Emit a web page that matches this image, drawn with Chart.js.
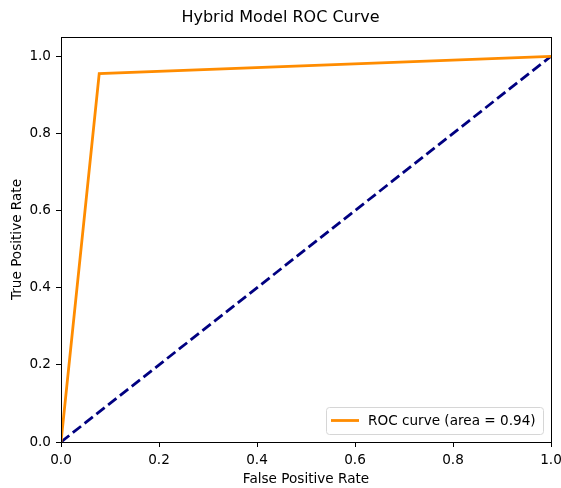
<!DOCTYPE html>
<html>
<head>
<meta charset="utf-8">
<script src="https://cdn.jsdelivr.net/npm/chart.js@4.4.1/dist/chart.umd.min.js"></script>
<style>
  html, body { margin: 0; padding: 0; background: #fff; }
  #wrap { width: 561px; height: 488px; }
</style>
</head>
<body>
<div id="wrap"><canvas id="roc" width="561" height="488"></canvas></div>
<script>
// ROC points
const fpr = [0, 0.078, 1];
const tpr = [0, 0.955, 1];
const chanceX = [0, 1];
const chanceY = [0, 1];
const xTicks = [0, 0.2, 0.4, 0.6, 0.8, 1.0];
const yTicks = [0, 0.2, 0.4, 0.6, 0.8, 1.0];
const rocLabel = 'ROC curve (area = 0.94)';

const FONT = '"DejaVu Sans", sans-serif';
const FS = 13.6;

// box around the plot + legend inside the lower right corner
const frameAndLegend = {
  id: 'frameAndLegend',
  afterDatasetsDraw(chart) {
    const {ctx, chartArea: a} = chart;
    ctx.save();
    ctx.strokeStyle = '#000';
    ctx.lineWidth = 1;
    ctx.strokeRect(a.left + 0.5, a.top + 0.5, a.right - a.left, a.bottom - a.top);

    const w = 217, h = 27;
    const x = a.right - 8 - w, y = a.bottom - 8 - h;
    ctx.beginPath();
    ctx.roundRect(x + 0.5, y + 0.5, w, h, 3);
    ctx.fillStyle = 'rgba(255,255,255,0.8)';
    ctx.fill();
    ctx.strokeStyle = '#d6d6d6';
    ctx.stroke();

    const ds = chart.data.datasets[0];
    ctx.beginPath();
    ctx.moveTo(x + 5, y + 13.5);
    ctx.lineTo(x + 33, y + 13.5);
    ctx.strokeStyle = ds.borderColor;
    ctx.lineWidth = ds.borderWidth;
    ctx.stroke();
    ctx.fillStyle = '#000';
    ctx.font = FS + 'px ' + FONT;
    ctx.textBaseline = 'middle';
    ctx.fillText(ds.label, x + 42, y + 14);
    ctx.restore();
  }
};

new Chart(document.getElementById('roc').getContext('2d'), {
  type: 'scatter',
  data: {
    datasets: [{
      label: rocLabel,
      data: fpr.map((v, i) => ({x: v, y: tpr[i]})),
      showLine: true,
      borderColor: '#ff8c00',
      backgroundColor: '#ff8c00',
      borderWidth: 2.8,
      pointRadius: 0,
      tension: 0
    }, {
      label: 'chance',
      data: chanceX.map((v, i) => ({x: v, y: chanceY[i]})),
      showLine: true,
      borderColor: '#000080',
      borderWidth: 2.8,
      borderDash: [10.5, 4.5],
      pointRadius: 0
    }]
  },
  options: {
    responsive: false,
    animation: false,
    layout: { padding: 0 },
    plugins: {
      legend: { display: false },
      tooltip: { enabled: false },
      title: {
        display: true,
        text: 'Hybrid Model ROC Curve',
        color: '#000',
        font: { family: FONT, size: 16, weight: 'normal' },
        padding: { top: 8, bottom: 9.8 }
      }
    },
    scales: {
      x: {
        type: 'linear',
        min: 0,
        max: 1,
        afterBuildTicks: s => { s.ticks = xTicks.map(v => ({value: v})); },
        afterFit: s => { s.height = 46; s.paddingRight = 10; s.paddingLeft = 0; },
        ticks: {
          color: '#000',
          padding: 5,
          maxRotation: 0,
          font: { family: FONT, size: FS },
          callback: v => v.toFixed(1)
        },
        grid: { drawOnChartArea: false, drawTicks: true, tickLength: 5, tickColor: '#000' },
        border: { display: true, color: '#000' },
        title: {
          display: true,
          text: 'False Positive Rate',
          color: '#000',
          font: { family: FONT, size: FS },
          padding: { top: 0, bottom: 0 }
        }
      },
      y: {
        type: 'linear',
        min: 0,
        max: 1.05,
        afterBuildTicks: s => { s.ticks = yTicks.map(v => ({value: v})); },
        afterFit: s => { s.width = 61; s.paddingTop = 0; s.paddingBottom = 0; },
        ticks: {
          color: '#000',
          padding: 5,
          font: { family: FONT, size: FS },
          callback: v => v.toFixed(1)
        },
        grid: { drawOnChartArea: false, drawTicks: true, tickLength: 5, tickColor: '#000' },
        border: { display: true, color: '#000' },
        title: {
          display: true,
          text: 'True Positive Rate',
          color: '#000',
          font: { family: FONT, size: FS },
          padding: { top: 9, bottom: 0 }
        }
      }
    }
  },
  plugins: [frameAndLegend]
});
</script>
</body>
</html>
